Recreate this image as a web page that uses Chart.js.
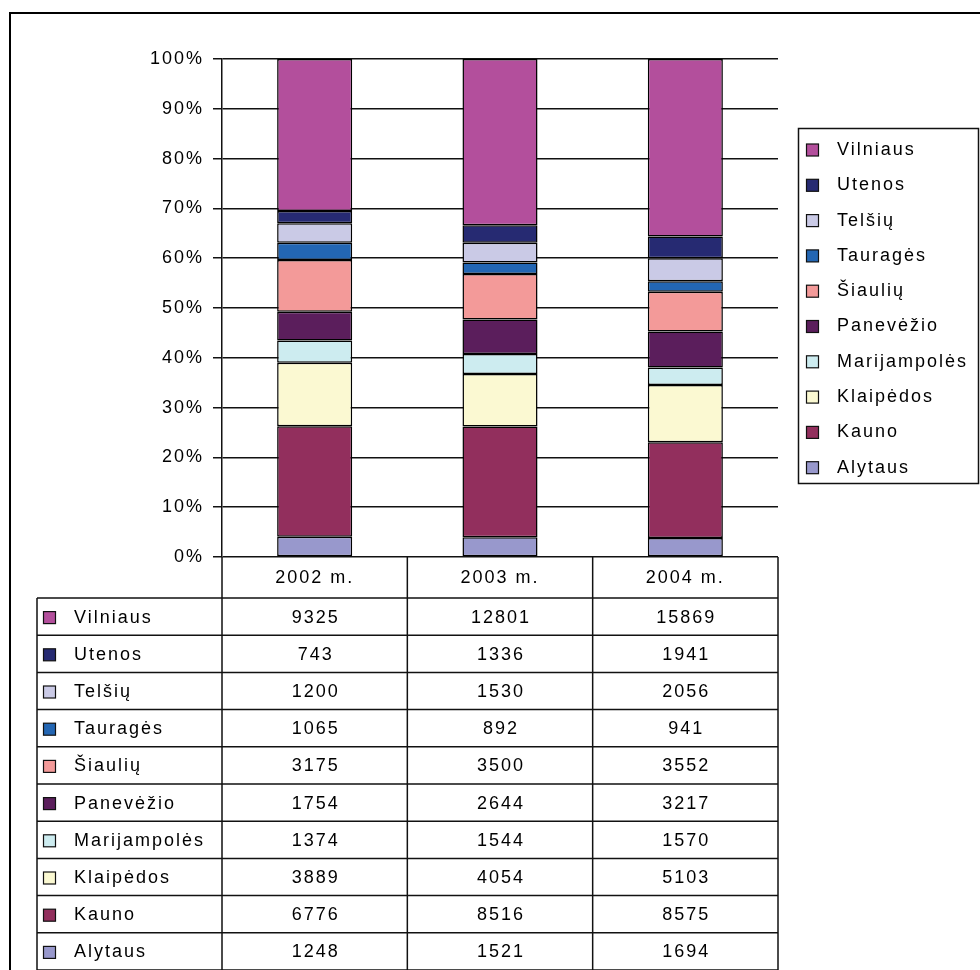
<!DOCTYPE html>
<html><head><meta charset="utf-8">
<script src="https://cdn.jsdelivr.net/npm/chart.js@4.4.1/dist/chart.umd.min.js"></script>
<style>html,body{margin:0;padding:0;background:#fff}#wrap{position:relative;width:980px;height:970px}</style>
</head><body><div id="wrap"><canvas id="c" width="980" height="970"></canvas></div>
<script>
const years = ['2002 m.', '2003 m.', '2004 m.'];
const regions = ['Alytaus', 'Kauno', 'Klaipėdos', 'Marijampolės', 'Panevėžio', 'Šiaulių', 'Tauragės', 'Telšių', 'Utenos', 'Vilniaus'];
const alytaus = [1248, 1521, 1694];
const kauno = [6776, 8516, 8575];
const klaipedos = [3889, 4054, 5103];
const marijampoles = [1374, 1544, 1570];
const panevezio = [1754, 2644, 3217];
const siauliu = [3175, 3500, 3552];
const taurages = [1065, 892, 941];
const telsiu = [1200, 1530, 2056];
const utenos = [743, 1336, 1941];
const vilniaus = [9325, 12801, 15869];
const seriesValues = [alytaus, kauno, klaipedos, marijampoles, panevezio, siauliu, taurages, telsiu, utenos, vilniaus];
const colors = ['#9898cc', '#922f5d', '#fbf9d2', '#cdecf0', '#5b1e5c', '#f39a99', '#2366b3', '#cacae6', '#262a72', '#b34f9c'];
const yTickValues = [0, 10, 20, 30, 40, 50, 60, 70, 80, 90, 100];

const FAMILY = '"Liberation Sans", Arial, sans-serif';
const FONT = '18px ' + FAMILY;
const LS = '2px';

const totals = years.map((_, i) => seriesValues.reduce((s, arr) => s + arr[i], 0));
const datasets = regions.map((name, k) => ({
  label: name,
  data: seriesValues[k].map((v, i) => v / totals[i] * 100),
  rawValues: seriesValues[k],
  backgroundColor: colors[k],
  borderColor: '#000',
  borderWidth: 1.5,
  borderSkipped: false,
  categoryPercentage: 1,
  barPercentage: 0.405
}));

const extras = {
  id: 'extras',
  beforeDraw(chart) {
    chart.ctx.letterSpacing = LS;
  },
  afterDraw(chart) {
    const ctx = chart.ctx;
    const ca = chart.chartArea;
    const xs = chart.scales.x;
    const n = years.length;
    const cw = (ca.right - ca.left) / n;
    const tableTop = ca.bottom;
    const headerBottom = 598;
    const tableBottom = 970;
    const tableLeft = 37;
    const rowH = (tableBottom - headerBottom) / regions.length;
    ctx.save();
    ctx.letterSpacing = LS;
    ctx.strokeStyle = '#111';
    ctx.lineWidth = 1.5;
    ctx.beginPath();
    for (let i = 0; i <= n; i++) {
      const x = ca.left + i * cw;
      ctx.moveTo(x, tableTop); ctx.lineTo(x, tableBottom);
    }
    ctx.moveTo(tableLeft, headerBottom); ctx.lineTo(tableLeft, tableBottom);
    for (let r = 0; r <= regions.length; r++) {
      const y = headerBottom + r * rowH;
      ctx.moveTo(tableLeft, y); ctx.lineTo(ca.right, y);
    }
    ctx.stroke();

    ctx.font = FONT;
    ctx.fillStyle = '#000';
    ctx.textBaseline = 'middle';
    const ds = chart.data.datasets;
    for (let r = 0; r < ds.length; r++) {
      const d = ds[ds.length - 1 - r];
      const cy = headerBottom + r * rowH + rowH / 2 + 1;
      ctx.fillStyle = d.backgroundColor;
      ctx.fillRect(43.5, cy - 6, 12, 12);
      ctx.lineWidth = 1.2;
      ctx.strokeStyle = '#111';
      ctx.strokeRect(43.5, cy - 6, 12, 12);
      ctx.fillStyle = '#000';
      ctx.textAlign = 'left';
      ctx.fillText(d.label, 74, cy);
      ctx.textAlign = 'center';
      for (let i = 0; i < n; i++) {
        ctx.fillText(String(d.rawValues[i]), xs.getPixelForValue(i) + 1, cy);
      }
    }

    // legend box
    ctx.lineWidth = 1.5;
    ctx.strokeStyle = '#111';
    ctx.strokeRect(798.5, 128.5, 180, 355);
    for (let r = 0; r < ds.length; r++) {
      const d = ds[ds.length - 1 - r];
      const cy = 150 + r * 35.3;
      ctx.fillStyle = d.backgroundColor;
      ctx.fillRect(806.5, cy - 6, 12, 12);
      ctx.lineWidth = 1.2;
      ctx.strokeRect(806.5, cy - 6, 12, 12);
      ctx.fillStyle = '#000';
      ctx.textAlign = 'left';
      ctx.fillText(d.label, 837, cy);
    }

    // outer frame
    ctx.lineWidth = 2;
    ctx.strokeStyle = '#000';
    ctx.beginPath();
    ctx.moveTo(10, 970); ctx.lineTo(10, 13); ctx.lineTo(980, 13);
    ctx.stroke();
    ctx.restore();
  }
};

new Chart(document.getElementById('c'), {
  type: 'bar',
  data: { labels: years, datasets },
  plugins: [extras],
  options: {
    responsive: false,
    devicePixelRatio: 1,
    animation: false,
    layout: { padding: { left: 0, top: 59, right: 202, bottom: 372 } },
    plugins: { legend: { display: false }, tooltip: { enabled: false } },
    scales: {
      x: {
        stacked: true,
        grid: { display: false, drawTicks: false },
        border: { display: false },
        ticks: { color: '#000', font: { family: FAMILY, size: 18 }, padding: 10, maxRotation: 0, autoSkip: false },
        afterFit(s) { s.height = 41; }
      },
      y: {
        stacked: true,
        min: 0, max: 100,
        afterBuildTicks(s) { s.ticks = yTickValues.map(v => ({ value: v })); },
        ticks: { color: '#000', font: { family: FAMILY, size: 18 }, padding: 9, callback: v => v + '%' },
        grid: { color: '#111', lineWidth: 1.5, tickLength: 9, drawTicks: true },
        border: { display: true, color: '#111', width: 1.5 },
        afterFit(s) { s.width = 222; }
      }
    }
  }
});
</script>
</body></html>
